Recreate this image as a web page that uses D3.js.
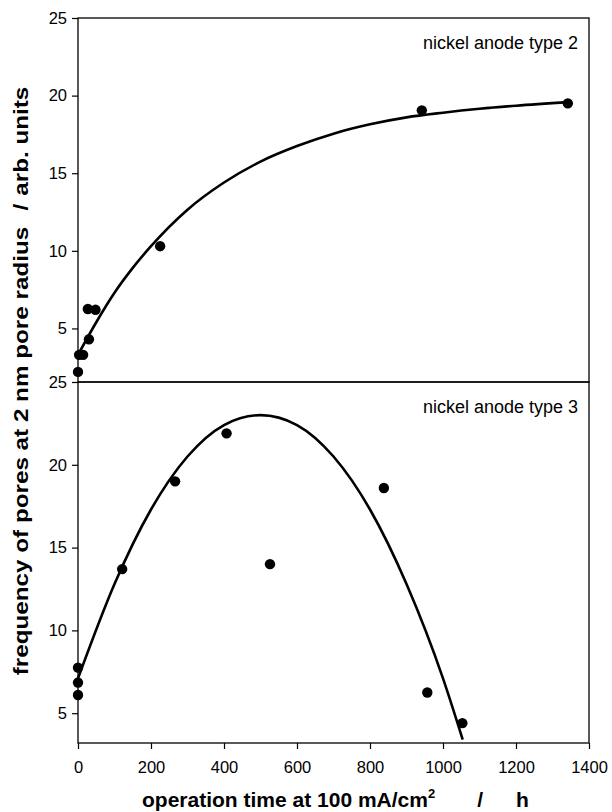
<!DOCTYPE html>
<html>
<head>
<meta charset="utf-8">
<script src="https://cdn.jsdelivr.net/npm/d3@7"></script>
<style>
  html, body { margin: 0; padding: 0; background: #fff; }
  svg { display: block; }
  text { font-family: "Liberation Sans", Arial, sans-serif; fill: #000; }
</style>
</head>
<body>
<svg id="chart" width="612" height="812"></svg>
<script>
// ---- data ----
const xTicks = [0, 200, 400, 600, 800, 1000, 1200, 1400];
const yTicks = [5, 10, 15, 20, 25];

// nickel anode type 2 (upper panel) measured points
const type2X = [0, 3, 14, 27, 30, 48, 225, 942, 1342];
const type2Y = [2.2, 3.3, 3.3, 6.25, 4.3, 6.2, 10.3, 19.05, 19.5];
// fitted curve
const fit2X = [0, 50, 100, 150, 200, 300, 400, 500, 600, 700, 800, 900, 1000, 1100, 1200, 1345];
const fit2Y = [3.3, 5.4, 7.3, 8.9, 10.3, 12.65, 14.4, 15.75, 16.75, 17.55, 18.15, 18.6, 18.9, 19.15, 19.35, 19.58];

// nickel anode type 3 (lower panel) measured points
const type3X = [0, 0, 0, 121, 266, 407, 526, 838, 957, 1053];
const type3Y = [7.75, 6.85, 6.1, 13.7, 19.0, 21.9, 14.0, 18.6, 6.25, 4.4];
// fitted curve
const fit3X = [0, 100, 200, 300, 400, 500, 600, 700, 800, 900, 1000, 1054];
const fit3Y = [7.1, 12.8, 17.3, 20.5, 22.4, 23.0, 22.4, 20.5, 17.3, 12.8, 7.1, 3.4];

const label2 = "nickel anode type 2";
const label3 = "nickel anode type 3";

// ---- layout ----
const L = 78, R = 589, T = 18, M = 382, B = 743;
const svg = d3.select("#chart");

const x = d3.scaleLinear().domain([0, 1400]).range([L, R]);
const yTop = d3.scaleLinear().domain([1.55, 25]).range([M, T]);
const yBot = d3.scaleLinear().domain([3.2, 25]).range([B, M]);

const tickFont = 16.5;

function panel(yScale, px, py, fx, fy, label) {
  const g = svg.append("g");
  const ax = g.append("g").attr("transform", `translate(${L},0)`)
    .call(d3.axisLeft(yScale).tickValues(yTicks).tickSize(6).tickPadding(5).tickFormat(d3.format("d")));
  ax.select(".domain").remove();
  ax.selectAll("line").attr("stroke", "#000").attr("stroke-width", 1.2);
  ax.selectAll("text").style("font-size", tickFont + "px").style("font-family", '"Liberation Sans", Arial, sans-serif');

  g.append("rect")
    .attr("x", L).attr("y", yScale.range()[1])
    .attr("width", R - L).attr("height", yScale.range()[0] - yScale.range()[1])
    .attr("fill", "none").attr("stroke", "#000").attr("stroke-width", 1.3);

  const line = d3.line().x(d => x(d[0])).y(d => yScale(d[1])).curve(d3.curveMonotoneX);
  g.append("path")
    .datum(fx.map((v, i) => [v, fy[i]]))
    .attr("d", line)
    .attr("fill", "none").attr("stroke", "#000").attr("stroke-width", 2.6);

  g.selectAll("circle.pt").data(px.map((v, i) => [v, py[i]]))
    .enter().append("circle")
    .attr("class", "pt")
    .attr("cx", d => x(d[0])).attr("cy", d => yScale(d[1]))
    .attr("r", 5.2).attr("fill", "#000");

  g.append("text")
    .attr("x", 578).attr("y", yScale.range()[1] + 31)
    .attr("text-anchor", "end")
    .style("font-size", "18px")
    .text(label);
}

panel(yTop, type2X, type2Y, fit2X, fit2Y, label2);
panel(yBot, type3X, type3Y, fit3X, fit3Y, label3);

// x axis
const xa = svg.append("g").attr("transform", `translate(0,${B})`)
  .call(d3.axisBottom(x).tickValues(xTicks).tickSize(6).tickPadding(12).tickFormat(d3.format("d")));
xa.select(".domain").remove();
xa.selectAll("line").attr("stroke", "#000").attr("stroke-width", 1.2);
xa.selectAll("text").style("font-size", tickFont + "px").style("font-family", '"Liberation Sans", Arial, sans-serif');

// x title
const xt = svg.append("text")
  .attr("x", 142).attr("y", 807)
  .attr("text-anchor", "start")
  .style("font-size", "21px").style("font-weight", "bold");
xt.append("tspan").text("operation time at 100 mA/cm");
xt.append("tspan").attr("dy", -9).style("font-size", "13px").text("2");
xt.append("tspan").attr("dy", 9).attr("dx", 42).text("/");
xt.append("tspan").attr("dx", 33).text("h");

// y title
const yt = svg.append("text")
  .attr("transform", "translate(27.5,381) rotate(-90) scale(1.155,1)")
  .attr("text-anchor", "middle")
  .style("font-size", "21px").style("font-weight", "bold");
yt.append("tspan").text("frequency of pores at 2 nm pore radius");
yt.append("tspan").attr("dx", 14).text("/");
yt.append("tspan").attr("dx", 7).text("arb. units");
</script>
</body>
</html>
